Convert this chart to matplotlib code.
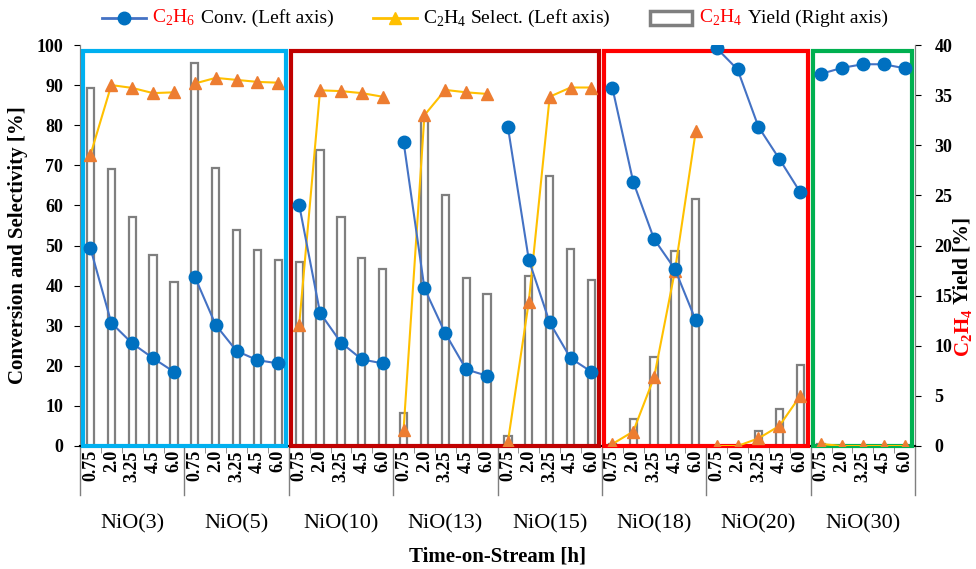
import numpy as np
import matplotlib
matplotlib.use("Agg")
import matplotlib.pyplot as plt
import matplotlib.transforms as mtransforms
from matplotlib.patches import Rectangle
from matplotlib.lines import Line2D
from matplotlib.offsetbox import HPacker, TextArea, DrawingArea, AnchoredOffsetbox

plt.rcParams['font.family'] = ['Liberation Serif', 'DejaVu Serif']
plt.rcParams['mathtext.fontset'] = 'custom'
plt.rcParams['mathtext.rm'] = 'Liberation Serif'
plt.rcParams['mathtext.bf'] = 'Liberation Serif:bold'

# data
groups = ['NiO(3)', 'NiO(5)', 'NiO(10)', 'NiO(13)', 'NiO(15)', 'NiO(18)', 'NiO(20)', 'NiO(30)']
times = ['0.75', '2.0', '3.25', '4.5', '6.0']

conv = [[49.3, 30.7, 25.6, 21.9, 18.5],
        [42.2, 30.2, 23.7, 21.4, 20.6],
        [60.1, 33.2, 25.8, 21.6, 20.6],
        [75.9, 39.3, 28.1, 19.1, 17.5],
        [79.5, 46.4, 30.8, 21.9, 18.5],
        [89.4, 65.9, 51.6, 44.1, 31.3],
        [99.2, 93.9, 79.6, 71.6, 63.3],
        [92.8, 94.3, 95.2, 95.2, 94.2]]

select = [[72.6, 90.0, 89.3, 88.0, 88.2],
          [90.4, 91.8, 91.3, 90.8, 90.6],
          [30.2, 88.7, 88.5, 88.0, 87.1],
          [4.0, 82.5, 88.8, 88.2, 87.8],
          [1.1, 36.0, 87.1, 89.4, 89.4],
          [0.5, 3.6, 17.1, 43.7, 78.6],
          [0.0, 0.0, 1.9, 5.0, 12.5],
          [0.5, 0.0, 0.0, 0.0, 0.0]]

yld = [[35.7, 27.6, 22.8, 19.1, 16.4],
       [38.2, 27.7, 21.5, 19.6, 18.6],
       [18.4, 29.5, 22.8, 18.8, 17.7],
       [3.3, 32.7, 25.0, 16.8, 15.2],
       [1.0, 17.0, 26.9, 19.7, 16.6],
       [0.2, 2.7, 8.9, 19.5, 24.6],
       [0.0, 0.0, 1.5, 3.7, 8.1],
       [0.2, 0.0, 0.0, 0.0, 0.0]]

# boxes: (first group, last group, colour)
boxes = [(0, 1, '#00B0F0'), (2, 4, '#C00000'), (5, 6, '#FF0000'), (7, 7, '#00B050')]

n = len(times)
fig = plt.figure(figsize=(9.76, 5.69), dpi=100)
ax = fig.add_axes([80/976, 1-446/569, 835/976, 401/569])
ax2 = ax.twinx()
ax.set_zorder(ax2.get_zorder() + 1)
ax.patch.set_visible(False)

for g in range(len(groups)):
    x = np.arange(n) + g*n
    ax2.bar(x, yld[g], width=0.35, facecolor='white', edgecolor='#7f7f7f', lw=1.6)
    ax.plot(x, select[g], color='#FFC000', lw=1.5, marker='^', ms=9,
            markerfacecolor='#ED7D31', markeredgecolor='#ED7D31', zorder=4)
    ax.plot(x, conv[g], color='#4472C4', lw=1.5, marker='o', ms=9,
            markerfacecolor='#0070C0', markeredgecolor='#0070C0', zorder=5)

for g0, g1, c in boxes:
    x0 = g0*n - 0.5 + 0.12
    x1 = (g1+1)*n - 0.5 - 0.12
    ax.add_patch(Rectangle((x0, 0), x1-x0, 98.4, fill=False, edgecolor=c, lw=3, zorder=3, clip_on=False))

ax.set_xlim(-0.5, len(groups)*n - 0.5)
ax.set_ylim(0, 100)
ax2.set_ylim(0, 40)
ax.set_yticks(np.arange(0, 101, 10))
ax2.set_yticks(np.arange(0, 41, 5))

ax.set_xticks(np.arange(len(groups)*n))
ax.set_xticklabels(times*len(groups), rotation=90, fontweight='bold', fontsize=13)
ax.set_xticks(np.arange(len(groups)*n + 1) - 0.5, minor=True)
ax.tick_params(axis='x', which='major', length=0, pad=3)
ax.tick_params(axis='x', which='minor', length=5, color='#7f7f7f')
for lab in ax.get_yticklabels() + ax2.get_yticklabels():
    lab.set_fontweight('bold')
    lab.set_fontsize(13)
ax.tick_params(axis='y', length=4, pad=8)
ax2.tick_params(axis='y', length=4, pad=10)

for a in (ax, ax2):
    a.spines['top'].set_visible(False)
    a.spines['left'].set_color('#7f7f7f')
    a.spines['right'].set_color('#7f7f7f')
    a.spines['bottom'].set_color('black')
    a.spines['bottom'].set_linewidth(1.5)

trans = mtransforms.blended_transform_factory(ax.transData, ax.transAxes)
for g in range(len(groups) + 1):
    b = g*n - 0.5
    ax.plot([b, b], [0, -0.122], color='#7f7f7f', lw=1, transform=trans, clip_on=False)
for g, name in enumerate(groups):
    ax.text(g*n + (n-1)/2, -0.195, name, transform=trans, ha='center', va='center', fontsize=16)

ax.text(0.5, -0.275, 'Time-on-Stream [h]', transform=ax.transAxes, ha='center', va='center',
        fontsize=15, fontweight='bold')
ax.set_ylabel('Conversion and Selectivity [%]', fontsize=15, fontweight='bold', labelpad=6)

# right axis label: red formula then black words, stacked upward
lab_x = 963/976
t1 = fig.text(lab_x, 1-357/569, r'$\mathbf{C_2H_4}$', color='red', rotation=90, fontsize=15,
              ha='center', va='bottom')
fig.canvas.draw()
bb = t1.get_window_extent()
fig.text(lab_x, (bb.y1 + 4)/fig.bbox.height, 'Yield [%]', color='black', rotation=90, fontsize=15,
         fontweight='bold', ha='center', va='bottom')

# legend built from pieces to colour the formulas
fs = 14
def line_handle(lc, mk, mc):
    da = DrawingArea(32, 12, 0, 0)
    da.add_artist(Line2D([0, 32], [6, 6], color=lc, lw=2))
    da.add_artist(Line2D([16], [6], marker=mk, ms=9, color=mc, markeredgecolor=mc))
    return da

def bar_handle():
    da = DrawingArea(32, 12, 0, 0)
    da.add_artist(Rectangle((1, 1), 30, 10, facecolor='white', edgecolor='#7f7f7f', lw=2.5))
    return da

e1 = HPacker(children=[line_handle('#4472C4', 'o', '#0070C0'),
                       TextArea(r'C$_2$H$_6$', textprops=dict(color='red', fontsize=fs)),
                       TextArea('Conv. (Left axis)', textprops=dict(color='black', fontsize=fs))],
             align='center', pad=0, sep=4)
e2 = HPacker(children=[line_handle('#FFC000', '^', '#FFC000'),
                       TextArea(r'C$_2$H$_4$ Select. (Left axis)', textprops=dict(color='black', fontsize=fs))],
             align='center', pad=0, sep=4)
e3 = HPacker(children=[bar_handle(),
                       TextArea(r'C$_2$H$_4$', textprops=dict(color='red', fontsize=fs)),
                       TextArea('Yield (Right axis)', textprops=dict(color='black', fontsize=fs))],
             align='center', pad=0, sep=4)
leg = HPacker(children=[e1, e2, e3], align='center', pad=0, sep=28)
anch = AnchoredOffsetbox(loc='center', child=leg, bbox_to_anchor=(495/976, 1-18/569),
                         bbox_transform=fig.transFigure, frameon=False, pad=0, borderpad=0)
fig.add_artist(anch)

fig.savefig('out.png', dpi=100)
